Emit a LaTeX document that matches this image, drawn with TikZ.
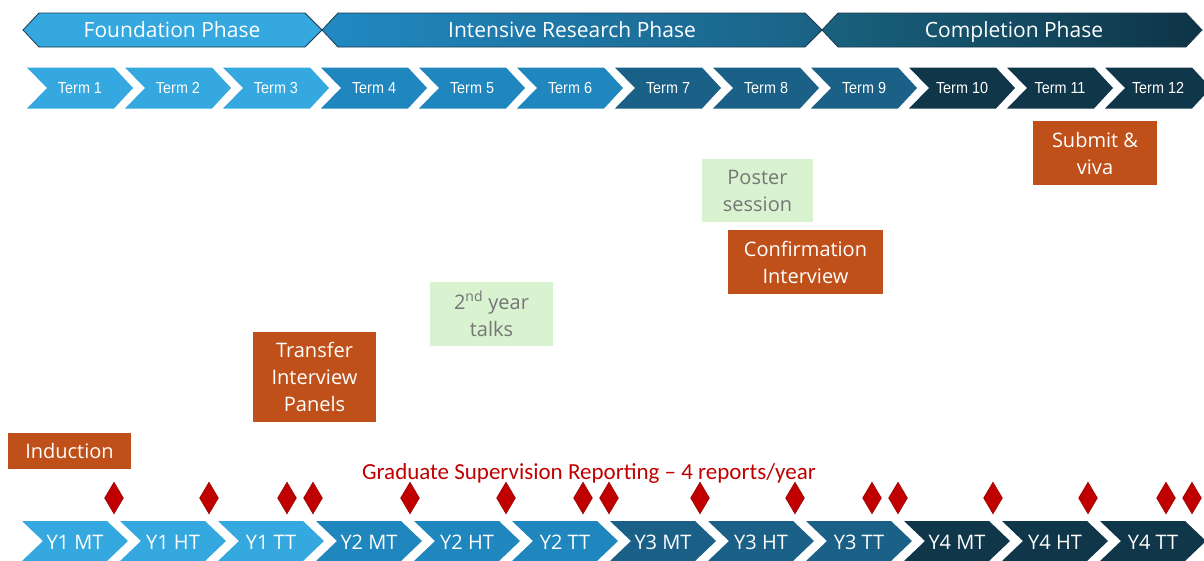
\documentclass[tikz,border=0pt]{standalone}
\usepackage{fontspec}
\setmainfont{Open Sans}
\newfontfamily\arialf[FakeStretch=0.9]{Liberation Sans}
\newfontfamily\calf{Carlito}
\usetikzlibrary{shapes.geometric}
\definecolor{cA}{HTML}{35A8DF}
\definecolor{cB}{HTML}{2087BE}
\definecolor{cC}{HTML}{1B6086}
\definecolor{cD}{HTML}{103749}
\definecolor{orng}{HTML}{C0501A}
\definecolor{grn}{HTML}{D9F2D0}
\definecolor{gtxt}{HTML}{767676}
\definecolor{rd}{HTML}{C00000}
\definecolor{bord}{HTML}{1C3A4C}
\definecolor{bannerA}{HTML}{34A8DF}
\definecolor{bannerB1}{HTML}{2189C2}
\definecolor{bannerB2}{HTML}{1A6285}
\definecolor{bannerC1}{HTML}{19627F}
\definecolor{bannerC2}{HTML}{0E3446}
\begin{document}
\begin{tikzpicture}[x=1pt,y=-1pt,
  phasetxt/.style={text=white,font=\fontsize{21}{24}\selectfont,inner sep=0,anchor=base},
  termtxt/.style={text=white,font=\arialf\fontsize{16}{18}\selectfont,inner sep=0,anchor=base},
  yeartxt/.style={text=white,font=\fontsize{20}{24}\selectfont,inner sep=0},
  orbox/.style={fill=orng,text=white,font=\fontsize{20}{27}\selectfont,align=center,inner sep=0,rectangle},
  grbox/.style={fill=grn,text=gtxt,font=\fontsize{20}{27}\selectfont,align=center,inner sep=0,rectangle},
  dmd/.style={diamond,fill=rd,draw=rd!75!black,line width=0.4pt,inner sep=0,minimum width=19,minimum height=32},
  bannerline/.style={draw=bord,line width=0.8pt}
]
\fill[white] (0,0) rectangle (1204,560);
\useasboundingbox (0,0) rectangle (1204,560);

% phase banners
\path[fill=bannerA,bannerline] (23,30) -- (39,13) -- (305,13) -- (322,30) -- (305,47) -- (39,47) -- cycle;
\path[left color=bannerB1,right color=bannerB2,bannerline] (322,30) -- (338,13) -- (805,13) -- (822,30) -- (805,47) -- (338,47) -- cycle;
\path[left color=bannerC1,right color=bannerC2,bannerline] (822,30) -- (838,13) -- (1186,13) -- (1202,30) -- (1186,47) -- (838,47) -- cycle;
\node[phasetxt] (pf) at (172,37.5) {Foundation Phase};
\node[phasetxt] (pi) at (572,37.5) {Intensive Research Phase};
\node[phasetxt] (pc) at (1014,37.5) {Completion Phase};

% term chevrons
\foreach \i/\c in {1/cA,2/cA,3/cA,4/cB,5/cB,6/cB,7/cC,8/cC,9/cC,10/cD,11/cD,12/cD}{
  \fill[\c] ({27+(\i-1)*98},67.5) -- ++(87,0) -- ++(19,20.5) -- ++(-19,20.5) -- ++(-87,0) -- ++(20,-20.5) -- cycle;
  \node[termtxt] (t\i) at ({27+(\i-1)*98+53},93.5) {Term \i};
}

% year/term chevrons
\foreach \i/\c/\t in {1/cA/Y1 MT,2/cA/Y1 HT,3/cA/Y1 TT,4/cB/Y2 MT,5/cB/Y2 HT,6/cB/Y2 TT,7/cC/Y3 MT,8/cC/Y3 HT,9/cC/Y3 TT,10/cD/Y4 MT,11/cD/Y4 HT,12/cD/Y4 TT}{
  \fill[\c] ({22+(\i-1)*98},521) -- ++(85,0) -- ++(21,20) -- ++(-21,20) -- ++(-85,0) -- ++(21,-20) -- cycle;
  \node[yeartxt] (y\i) at ({22+(\i-1)*98+53},542) {\t};
}

% reporting diamonds
\foreach \x [count=\k] in {114,209,287,313,410,506,583,609,700,795,872,898,993,1088,1166,1192}{
  \node[dmd] (d\k) at (\x,498) {};
}
\node[text=rd,font=\calf\fontsize{23}{26}\selectfont,inner sep=0,anchor=base] (grs) at (589,479) {Graduate Supervision Reporting – 4 reports/year};

% event boxes
\node[orbox,minimum width=123,minimum height=36] (ind) at (69.5,451) {Induction};
\node[orbox,minimum width=123,minimum height=90] (tip) at (314.5,377) {Transfer\\Interview\\Panels};
\node[grbox,minimum width=123,minimum height=64] (syt) at (491.5,314) {2\textsuperscript{nd} year\\talks};
\node[grbox,minimum width=111,minimum height=63] (pos) at (757.5,190.5) {Poster\\session};
\node[orbox,minimum width=155,minimum height=64] (cin) at (805.5,262) {Confirmation\\Interview};
\node[orbox,minimum width=124,minimum height=64] (sub) at (1095,153) {Submit \&\\viva};
\end{tikzpicture}
\end{document}
